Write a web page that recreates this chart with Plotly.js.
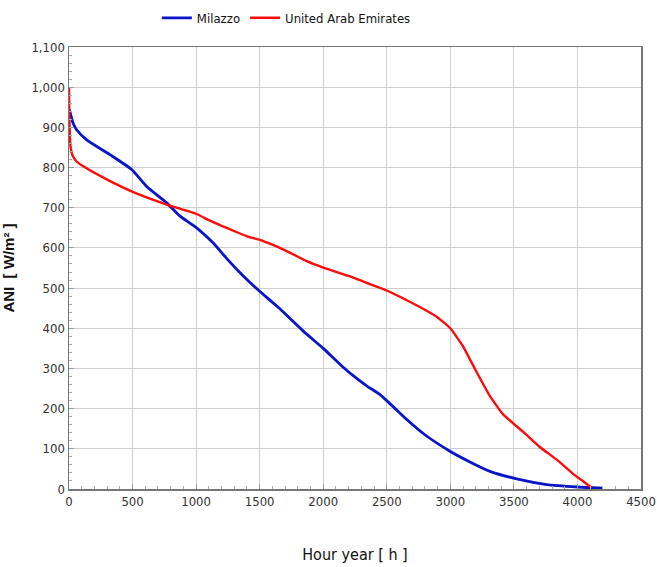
<!DOCTYPE html>
<html>
<head>
<meta charset="utf-8">
<script src="https://cdn.plot.ly/plotly-3.0.1.min.js"></script>
<style>html,body{margin:0;padding:0;background:#fff;}#chart{width:657px;height:567px;}</style>
</head>
<body>
<div id="chart"></div>
<script>
const milazzoHours = [0, 8, 30, 60, 139, 322, 493, 611, 769, 873, 1004, 1135, 1240, 1340, 1424, 1500, 1650, 1843, 2000, 2150, 2276, 2350, 2447, 2550, 2657, 2800, 2997, 3150, 3312, 3522, 3758, 4000, 4200];
const milazzoANI   = [945, 938, 912, 894, 869, 832, 795, 753, 712, 679, 650, 612, 574, 540, 514, 492, 451, 393, 350, 305, 272, 255, 235, 205, 173, 135, 94, 68, 44, 25, 11, 5, 2];

const uaeHours = [0, 3, 8, 15, 31, 60, 112, 300, 506, 769, 1000, 1100, 1200, 1300, 1400, 1500, 1600, 1700, 1870, 2000, 2211, 2400, 2500, 2600, 2700, 2800, 2900, 3000, 3100, 3200, 3312, 3417, 3574, 3706, 3837, 3968, 4050, 4112];
const uaeANI   = [1000, 920, 870, 845, 828, 815, 803, 770, 739, 708, 685, 669, 655, 642, 629, 620, 608, 594, 567, 551, 529, 506, 494, 479, 463, 446, 427, 400, 355, 295, 231, 185, 142, 104, 73, 37, 18, 3];

const seriesNames = ["Milazzo", "United Arab Emirates"];

const narrow = "'Liberation Sans Narrow', 'DejaVu Sans Condensed', 'Arial Narrow', sans-serif";

const traces = [
  {x: milazzoHours, y: milazzoANI, name: seriesNames[0], mode: "lines",
   line: {color: "#0a14c8", width: 2.8, shape: "spline", smoothing: 0.5}},
  {x: uaeHours, y: uaeANI, name: seriesNames[1], mode: "lines",
   line: {color: "#ff0a0a", width: 2.4, shape: "spline", smoothing: 0.4}}
];

const layout = {
  width: 657, height: 567,
  margin: {l: 69, r: 16, t: 47, b: 78},
  paper_bgcolor: "#ffffff", plot_bgcolor: "#ffffff",
  showlegend: true,
  legend: {orientation: "h", x: 0.38, xanchor: "center", y: 0.995, yref: "container", yanchor: "top",
           font: {family: narrow, size: 13, color: "#111"}, itemwidth: 30, traceorder: "normal"},
  xaxis: {
    range: [0, 4500], dtick: 500, tick0: 0,
    showgrid: true, gridcolor: "#cfcfcf", gridwidth: 1,
    showline: true, mirror: true, linecolor: "#777", linewidth: 1.5,
    ticks: "inside", ticklen: 5, tickcolor: "#999",
    minor: {dtick: 100, ticks: "inside", ticklen: 3, tickcolor: "#aaa", showgrid: false},
    tickfont: {family: narrow, size: 13, color: "#333"},
    zeroline: false,
    title: {text: "Hour year [ h ]", font: {family: narrow, size: 16, color: "#111"}, standoff: 40}
  },
  yaxis: {
    range: [0, 1100], dtick: 100, tick0: 0, tickformat: ",d",
    showgrid: true, gridcolor: "#cfcfcf", gridwidth: 1,
    showline: true, mirror: true, linecolor: "#777", linewidth: 1.5,
    ticks: "inside", ticklen: 5, tickcolor: "#999",
    minor: {dtick: 20, ticks: "inside", ticklen: 3, tickcolor: "#aaa", showgrid: false},
    tickfont: {family: narrow, size: 13, color: "#333"},
    zeroline: false,
    title: {text: "<b>ANI  [ W/m² ]</b>", font: {family: "Arial, 'Liberation Sans', sans-serif", size: 15, color: "#111"}, standoff: 18}
  }
};

Plotly.newPlot("chart", traces, layout, {displayModeBar: false, staticPlot: true});
</script>
</body>
</html>
